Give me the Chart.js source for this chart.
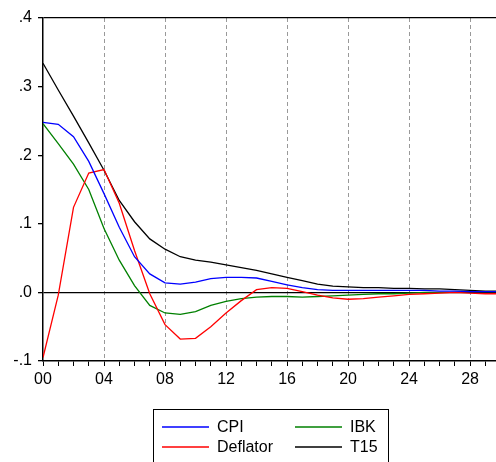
<!DOCTYPE html>
<html>
<head>
<meta charset="utf-8">
<script src="https://cdn.jsdelivr.net/npm/chart.js@4"></script>
<style>
  html, body { margin: 0; padding: 0; background: #fff; }
  #wrap { width: 496px; height: 462px; }
</style>
</head>
<body>
<div id="wrap"><canvas id="c" width="496" height="462"></canvas></div>
<script>
// impulse responses, periods 0..30
const periods = Array.from({ length: 31 }, (_, i) => i);
const cpi = [0.248, 0.245, 0.227, 0.191, 0.144, 0.095, 0.052, 0.027, 0.014, 0.012,
  0.015, 0.020, 0.022, 0.022, 0.021, 0.016, 0.011, 0.007, 0.004, 0.003,
  0.003, 0.003, 0.003, 0.003, 0.003, 0.003, 0.002, 0.002, 0.001, 0.001, 0.001];
const deflator = [-0.095, -0.004, 0.124, 0.174, 0.179, 0.130, 0.061, -0.002, -0.047, -0.068,
  -0.067, -0.050, -0.030, -0.012, 0.004, 0.007, 0.006, 0.001, -0.004, -0.008,
  -0.010, -0.009, -0.007, -0.005, -0.003, -0.002, -0.001, 0.000, -0.001, -0.002, -0.002];
const ibk = [0.246, 0.217, 0.187, 0.150, 0.093, 0.047, 0.010, -0.019, -0.030, -0.032,
  -0.028, -0.019, -0.013, -0.009, -0.007, -0.006, -0.006, -0.007, -0.006, -0.005,
  -0.004, -0.003, -0.002, -0.002, -0.001, 0.000, 0.000, 0.000, 0.001, 0.001, 0.001];
const t15 = [0.334, 0.295, 0.257, 0.218, 0.178, 0.134, 0.103, 0.078, 0.063, 0.052,
  0.047, 0.044, 0.040, 0.036, 0.032, 0.027, 0.022, 0.017, 0.012, 0.009,
  0.008, 0.007, 0.007, 0.006, 0.006, 0.005, 0.005, 0.004, 0.003, 0.002, 0.002];

const seriesNames = ['CPI', 'Deflator', 'IBK', 'T15'];
const seriesColors = ['#0000ff', '#ff0000', '#008000', '#000000'];
const seriesValues = [cpi, deflator, ibk, t15];

const FONT = 'Arial, "Liberation Sans", sans-serif';
const X_MAX = 29.7;

const datasets = seriesNames.map((name, k) => ({
  label: name,
  data: periods.map((p, i) => ({ x: p, y: seriesValues[k][i] })),
  borderColor: seriesColors[k],
  backgroundColor: seriesColors[k],
  borderWidth: 1.3,
  pointRadius: 0,
  tension: 0,
  fill: false
}));

// boxed two-column legend below the plot
const boxLegend = {
  id: 'boxLegend',
  afterDraw(chart) {
    const ctx = chart.ctx;
    ctx.save();
    ctx.strokeStyle = '#000';
    ctx.lineWidth = 1;
    ctx.strokeRect(153.5, 409.5, 235, 60);
    ctx.font = '16px ' + FONT;
    ctx.textBaseline = 'middle';
    ctx.fillStyle = '#000';
    // order: CPI, IBK on row 1; Deflator, T15 on row 2
    const slots = [
      { i: 0, x: 162, y: 427 },
      { i: 2, x: 295, y: 427 },
      { i: 1, x: 162, y: 447 },
      { i: 3, x: 295, y: 447 }
    ];
    slots.forEach(s => {
      const ds = chart.data.datasets[s.i];
      ctx.strokeStyle = ds.borderColor;
      ctx.lineWidth = 1.3;
      ctx.beginPath();
      ctx.moveTo(s.x, s.y);
      ctx.lineTo(s.x + 47, s.y);
      ctx.stroke();
      ctx.fillText(ds.label, s.x + 55, s.y + 1);
    });
    ctx.restore();
  }
};

new Chart(document.getElementById('c'), {
  type: 'line',
  data: { datasets },
  options: {
    responsive: false,
    animation: false,
    layout: { padding: { top: 18, right: 0, left: 0, bottom: 0 } },
    plugins: { legend: { display: false }, tooltip: { enabled: false } },
    scales: {
      x: {
        type: 'linear',
        min: 0,
        max: X_MAX,
        afterBuildTicks(scale) {
          scale.ticks = periods.filter(v => v <= X_MAX).map(v => ({ value: v }));
        },
        afterFit(scale) { scale.height = 101; },
        ticks: {
          autoSkip: false,
          maxRotation: 0,
          padding: 4,
          color: '#000',
          font: { family: FONT, size: 16 },
          callback: v => (v % 4 === 0 ? String(v).padStart(2, '0') : '')
        },
        grid: {
          drawTicks: true,
          tickLength: 5,
          tickColor: '#000',
          lineWidth: 1,
          color: ctx => (ctx.tick && ctx.tick.value % 4 === 0 && ctx.tick.value !== 0 ? '#999999' : 'rgba(0,0,0,0)')
        },
        border: { display: true, color: '#000', width: 1.5, dash: [4, 3] }
      },
      y: {
        min: -0.1,
        max: 0.4,
        afterFit(scale) { scale.width = 43; },
        ticks: {
          stepSize: 0.1,
          padding: 6,
          color: '#000',
          font: { family: FONT, size: 16 },
          callback: v => v.toFixed(1).replace('0.', '.')
        },
        grid: {
          drawTicks: true,
          tickLength: 5,
          tickColor: '#000',
          lineWidth: 1.3,
          color: ctx => (ctx.tick && (Math.abs(ctx.tick.value) < 1e-9 || Math.abs(ctx.tick.value - 0.4) < 1e-9) ? '#000' : 'rgba(0,0,0,0)')
        },
        border: { display: true, color: '#000', width: 1.5 }
      }
    }
  },
  plugins: [boxLegend]
});
</script>
</body>
</html>
